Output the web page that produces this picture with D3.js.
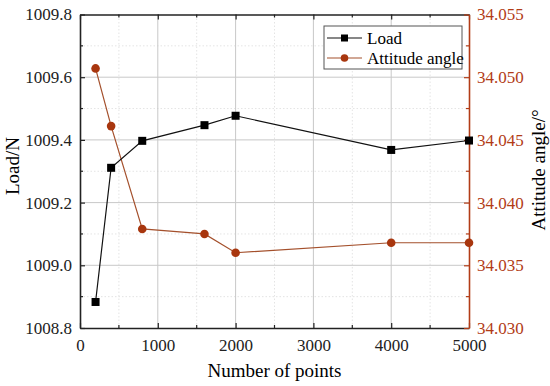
<!DOCTYPE html>
<html>
  <head>
    <meta charset="utf-8">
    <title>Load and attitude angle vs number of points</title>
    <script src="https://d3js.org/d3.v7.min.js"></script>
    <style>
      body { margin: 0; background: #fff; }
      svg text { font-family: "Liberation Serif", "Times New Roman", serif; }
      .grid line { stroke: #c8c8c8; stroke-width: 1; }
      .grid .minor { stroke: #e4e4e4; stroke-dasharray: 1.5 2; }
    </style>
  </head>
  <body>
    <svg id="chart" width="550" height="386"></svg>
    <script>
      // data
      var points = [200, 400, 800, 1600, 2000, 4000, 5000];
      var load = [1008.883, 1009.311, 1009.397, 1009.447, 1009.477, 1009.368, 1009.398];
      var angle = [34.0507, 34.0461, 34.0379, 34.0375, 34.0360, 34.0368, 34.0368];
      var xTicks = [0, 1000, 2000, 3000, 4000, 5000];
      var loadTicks = [1008.8, 1009.0, 1009.2, 1009.4, 1009.6, 1009.8];
      var angleTicks = [34.030, 34.035, 34.040, 34.045, 34.050, 34.055];

      var margin = { top: 14.5, right: 81, bottom: 58, left: 80 };
      var width = 550, height = 386;
      var red = "#b23c17";
      var lineRed = "#a4502c";
      var serif = "'Liberation Serif', 'Times New Roman', serif";

      var svg = d3.select("#chart");
      var x = d3.scaleLinear().domain([0, 5000]).range([margin.left, width - margin.right]);
      var yL = d3.scaleLinear().domain([1008.8, 1009.8]).range([height - margin.bottom, margin.top]);
      var yR = d3.scaleLinear().domain([34.030, 34.055]).range([height - margin.bottom, margin.top]);

      // grid
      var grid = svg.append("g").classed("grid", true);
      var xMinor = d3.range(500, 5000, 1000);
      var yMinor = d3.range(1008.9, 1009.8, 0.2);
      grid.selectAll(".minorX").data(xMinor).enter().append("line")
        .classed("minor", true)
        .attr("x1", function(d) { return x(d); }).attr("x2", function(d) { return x(d); })
        .attr("y1", yL.range()[0]).attr("y2", yL.range()[1]);
      grid.selectAll(".minorY").data(yMinor).enter().append("line")
        .classed("minor", true)
        .attr("y1", function(d) { return yL(d); }).attr("y2", function(d) { return yL(d); })
        .attr("x1", x.range()[0]).attr("x2", x.range()[1]);
      grid.selectAll(".majorX").data(xTicks.slice(1, -1)).enter().append("line")
        .attr("x1", function(d) { return x(d); }).attr("x2", function(d) { return x(d); })
        .attr("y1", yL.range()[0]).attr("y2", yL.range()[1]);
      grid.selectAll(".majorY").data(loadTicks.slice(1, -1)).enter().append("line")
        .attr("y1", function(d) { return yL(d); }).attr("y2", function(d) { return yL(d); })
        .attr("x1", x.range()[0]).attr("x2", x.range()[1]);

      // axes
      function styleAxis(g, color) {
        g.attr("font-family", serif).attr("font-size", 17);
        g.selectAll("path").attr("stroke", color).attr("stroke-width", 1.6);
        g.selectAll("line").attr("stroke", color).attr("stroke-width", 1.2);
        g.selectAll("text").attr("fill", color);
      }
      function minorTicks(parent, scale, vals, orient, color) {
        parent.selectAll(null).data(vals).enter().append("line")
          .attr("stroke", color).attr("stroke-width", 1.2)
          .each(function(d) {
            var s = d3.select(this);
            if (orient === "bottom") s.attr("x1", x(d)).attr("x2", x(d)).attr("y1", yL.range()[0]).attr("y2", yL.range()[0] - 3);
            if (orient === "top") s.attr("x1", x(d)).attr("x2", x(d)).attr("y1", yL.range()[1]).attr("y2", yL.range()[1] + 3);
            if (orient === "left") s.attr("y1", scale(d)).attr("y2", scale(d)).attr("x1", x.range()[0]).attr("x2", x.range()[0] + 3);
            if (orient === "right") s.attr("y1", scale(d)).attr("y2", scale(d)).attr("x1", x.range()[1]).attr("x2", x.range()[1] - 3);
          });
      }

      var bottomAxis = svg.append("g")
        .attr("transform", "translate(0," + (height - margin.bottom) + ")")
        .call(d3.axisBottom(x).tickValues(xTicks).tickSizeInner(-5).tickSizeOuter(0).tickPadding(11).tickFormat(d3.format("d")));
      styleAxis(bottomAxis, "#222");
      var topAxis = svg.append("g")
        .attr("transform", "translate(0," + margin.top + ")")
        .call(d3.axisTop(x).tickValues(xTicks).tickSizeInner(-5).tickSizeOuter(0).tickFormat(""));
      styleAxis(topAxis, "#222");
      var leftAxis = svg.append("g")
        .attr("transform", "translate(" + margin.left + ",0)")
        .call(d3.axisLeft(yL).tickValues(loadTicks).tickSizeInner(-5).tickSizeOuter(0).tickPadding(8).tickFormat(d3.format(".1f")));
      styleAxis(leftAxis, "#222");
      var rightAxis = svg.append("g")
        .attr("transform", "translate(" + (width - margin.right) + ",0)")
        .call(d3.axisRight(yR).tickValues(angleTicks).tickSizeInner(-5).tickSizeOuter(0).tickPadding(8).tickFormat(d3.format(".3f")));
      styleAxis(rightAxis, red);

      var ticksG = svg.append("g");
      minorTicks(ticksG, x, xMinor, "bottom", "#222");
      minorTicks(ticksG, x, xMinor, "top", "#222");
      minorTicks(ticksG, yL, yMinor, "left", "#222");
      minorTicks(ticksG, yR, d3.range(34.0325, 34.055, 0.005), "right", red);

      // axis titles
      svg.append("text")
        .attr("x", x(2500)).attr("y", 377)
        .attr("text-anchor", "middle").style("font-size", "19px")
        .text("Number of points");
      svg.append("text")
        .attr("transform", "translate(19,166) rotate(-90)")
        .attr("text-anchor", "middle").style("font-size", "19px")
        .text("Load/N");
      svg.append("text")
        .attr("transform", "translate(545,170) rotate(-90)")
        .attr("text-anchor", "middle").style("font-size", "19px")
        .text("Attitude angle/°");

      // series
      var loadData = points.map(function(p, i) { return { x: p, y: load[i] }; });
      var angleData = points.map(function(p, i) { return { x: p, y: angle[i] }; });

      svg.append("path").datum(angleData)
        .attr("fill", "none").attr("stroke", lineRed).attr("stroke-width", 1.2)
        .attr("d", d3.line().x(function(d) { return x(d.x); }).y(function(d) { return yR(d.y); }));
      svg.append("path").datum(loadData)
        .attr("fill", "none").attr("stroke", "#111").attr("stroke-width", 1.2)
        .attr("d", d3.line().x(function(d) { return x(d.x); }).y(function(d) { return yL(d.y); }));

      svg.selectAll(".anglePt").data(angleData).enter().append("circle")
        .attr("cx", function(d) { return x(d.x); })
        .attr("cy", function(d) { return yR(d.y); })
        .attr("r", 4.3).attr("fill", "#a8360e");
      svg.selectAll(".loadPt").data(loadData).enter().append("rect")
        .attr("x", function(d) { return x(d.x) - 4; })
        .attr("y", function(d) { return yL(d.y) - 4; })
        .attr("width", 8).attr("height", 8).attr("fill", "#000");

      // legend
      var lg = svg.append("g").attr("transform", "translate(324,26)");
      lg.append("rect").attr("width", 138).attr("height", 43)
        .attr("fill", "#fff").attr("stroke", "#555").attr("stroke-width", 1);
      lg.append("line").attr("x1", 3).attr("x2", 38).attr("y1", 12).attr("y2", 12).attr("stroke", "#111").attr("stroke-width", 1.2);
      lg.append("rect").attr("x", 17).attr("y", 8.5).attr("width", 7).attr("height", 7).attr("fill", "#000");
      lg.append("line").attr("x1", 3).attr("x2", 38).attr("y1", 32).attr("y2", 32).attr("stroke", lineRed).attr("stroke-width", 1.2);
      lg.append("circle").attr("cx", 20.5).attr("cy", 32).attr("r", 3.8).attr("fill", "#a8360e");
      lg.append("text").attr("x", 43).attr("y", 18).style("font-size", "17px").text("Load");
      lg.append("text").attr("x", 43).attr("y", 38).style("font-size", "17px").text("Attitude angle");
    </script>
  </body>
</html>
